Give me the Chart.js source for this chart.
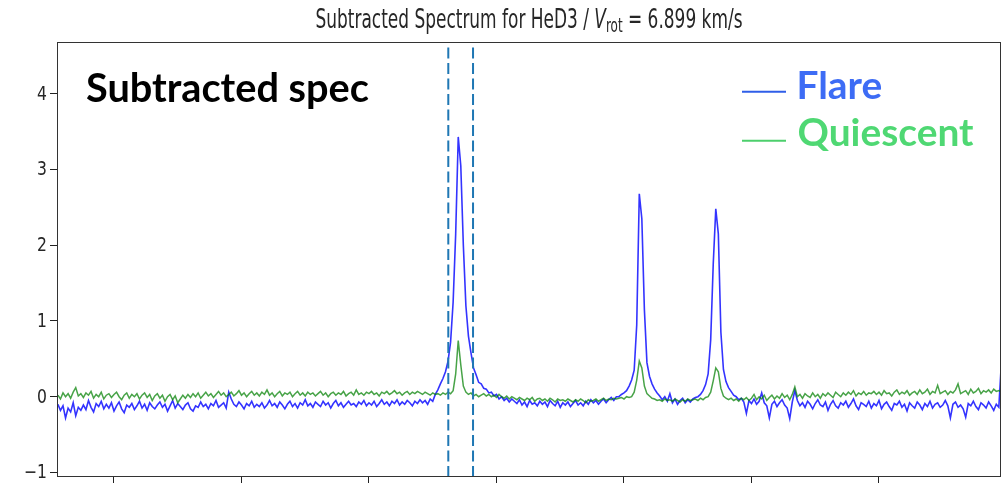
<!DOCTYPE html>
<html><head><meta charset="utf-8">
<script src="https://cdn.jsdelivr.net/npm/chart.js@4.4.1/dist/chart.umd.min.js"></script>
<style>html,body{margin:0;padding:0;background:#fff;overflow:hidden}#wrap{width:1008px;height:483px}</style>
</head><body><div id="wrap"><canvas id="c" width="1008" height="483"></canvas></div>
<script>
// wavelength grid (Angstrom)
const lambdaStart = 5845.6, lambdaStep = 0.2;
const fluxFlare = [
-0.10,-0.18,-0.12,-0.28,-0.15,-0.20,-0.08,-0.25,-0.14,-0.18,
-0.11,-0.17,-0.05,-0.14,-0.20,-0.09,-0.13,-0.06,-0.16,-0.10,
-0.15,-0.08,-0.19,-0.12,-0.07,-0.16,-0.21,-0.11,-0.14,-0.09,
-0.17,-0.12,-0.06,-0.15,-0.10,-0.18,-0.08,-0.13,-0.16,-0.11,
-0.07,-0.14,-0.10,-0.19,-0.12,-0.05,-0.15,-0.09,-0.13,-0.17,
-0.11,-0.08,-0.16,-0.19,-0.12,-0.14,-0.07,-0.13,-0.10,-0.16,
-0.09,-0.12,-0.05,-0.14,-0.11,-0.08,-0.15,0.06,-0.03,-0.10,
-0.13,-0.07,-0.11,-0.16,-0.09,-0.12,-0.06,-0.14,-0.10,-0.13,
-0.08,-0.15,-0.11,-0.05,-0.12,-0.09,-0.14,-0.07,-0.11,-0.16,
-0.10,-0.06,-0.13,-0.09,-0.15,-0.08,-0.11,-0.04,-0.12,-0.09,
-0.14,-0.07,-0.10,-0.13,-0.06,-0.11,-0.08,-0.15,-0.09,-0.05,
-0.12,-0.08,-0.14,-0.10,-0.06,-0.11,-0.09,-0.13,-0.07,-0.10,
-0.05,-0.12,-0.08,-0.11,-0.06,-0.13,-0.09,-0.04,-0.10,-0.07,
-0.12,-0.06,-0.09,-0.04,-0.11,-0.07,-0.10,-0.05,-0.08,-0.12,
-0.06,-0.09,-0.04,-0.08,-0.05,-0.10,-0.03,-0.06,0.03,0.09,
0.17,0.24,0.33,0.47,0.72,1.25,2.15,3.43,3.05,2.00,
1.20,0.80,0.58,0.38,0.29,0.19,0.17,0.11,0.10,0.05,
0.06,0.01,0.03,-0.03,0.00,-0.05,-0.02,-0.07,-0.03,-0.06,
-0.09,-0.04,-0.11,-0.07,-0.13,-0.05,-0.10,-0.08,-0.12,-0.06,
-0.10,-0.07,-0.13,-0.05,-0.09,-0.12,-0.06,-0.14,-0.08,-0.11,
-0.07,-0.13,-0.09,-0.05,-0.11,-0.08,-0.12,-0.06,-0.10,-0.04,
-0.08,-0.05,-0.10,-0.06,-0.03,-0.08,-0.04,-0.01,-0.05,0.00,
0.00,0.03,0.05,0.08,0.14,0.22,0.35,0.95,2.68,2.35,
1.15,0.45,0.27,0.17,0.10,0.05,0.01,-0.04,0.00,-0.06,
0.04,-0.08,-0.03,-0.10,-0.05,-0.02,-0.08,-0.04,-0.07,-0.03,
-0.01,0.00,0.03,0.08,0.16,0.30,0.75,1.75,2.48,2.15,
0.85,0.36,0.20,0.12,0.07,0.02,0.00,-0.04,-0.02,-0.07,
-0.22,-0.05,-0.09,-0.03,-0.10,-0.06,0.05,-0.08,-0.12,-0.28,
-0.10,-0.06,-0.13,-0.08,-0.04,-0.11,-0.15,-0.29,-0.07,0.08,
-0.05,-0.12,-0.08,-0.14,-0.06,-0.10,-0.16,-0.09,-0.04,-0.11,
-0.13,-0.07,-0.18,-0.10,-0.05,-0.12,-0.15,-0.08,-0.11,-0.06,
-0.14,-0.09,-0.03,-0.12,-0.17,-0.08,-0.10,-0.13,-0.06,-0.15,
-0.09,-0.12,-0.05,-0.16,-0.10,-0.07,-0.13,-0.18,-0.09,-0.11,
-0.06,-0.14,-0.10,-0.19,-0.08,-0.12,-0.15,-0.07,-0.11,-0.17,
-0.09,-0.13,-0.06,-0.15,-0.10,-0.08,-0.14,-0.11,-0.05,-0.12,
-0.28,-0.10,-0.07,-0.14,-0.11,-0.16,-0.27,-0.09,-0.12,-0.06,
-0.13,-0.17,-0.08,-0.11,-0.15,-0.07,-0.12,-0.18,-0.10,-0.14,0.45
];
const fluxQuiet = [
0.02,-0.03,0.05,0.00,0.04,-0.02,0.06,0.12,0.01,0.04,
-0.01,0.05,0.02,0.07,-0.02,0.03,0.00,0.06,-0.03,0.02,
0.04,-0.01,0.03,0.06,0.00,-0.04,0.02,0.05,-0.02,0.03,
0.00,0.04,-0.03,0.02,0.05,-0.01,0.03,-0.05,0.01,0.04,
-0.02,0.02,-0.06,0.00,0.03,-0.04,0.01,-0.08,-0.03,0.02,
-0.02,0.03,-0.01,0.04,0.00,0.05,-0.02,0.02,0.06,0.01,
0.04,-0.01,0.03,0.07,0.02,0.05,0.00,0.03,0.06,0.01,
0.04,0.08,0.02,0.05,0.00,0.04,0.07,0.02,0.05,0.01,
0.06,0.03,0.09,0.02,0.05,0.00,0.04,0.07,0.01,0.05,
0.03,0.06,0.00,0.04,0.07,0.02,0.05,0.01,0.06,0.03,
0.05,0.01,0.04,0.07,0.02,0.05,0.00,0.04,0.06,0.02,
0.05,0.03,0.07,0.01,0.04,0.06,0.02,0.09,0.03,0.05,
0.02,0.06,0.04,0.07,0.03,0.05,0.01,0.06,0.04,0.07,
0.03,0.05,0.08,0.04,0.06,0.02,0.05,0.07,0.03,0.06,
0.04,0.07,0.05,0.03,0.06,0.04,0.02,0.05,0.03,0.04,
0.02,0.05,0.03,0.06,0.04,0.08,0.30,0.74,0.42,0.14,
0.06,0.03,0.05,0.01,0.03,0.00,0.02,0.04,0.01,0.03,
0.00,0.02,-0.01,0.03,0.00,-0.02,0.01,-0.03,0.00,-0.02,
-0.04,-0.01,-0.03,-0.05,-0.02,-0.04,-0.01,-0.06,-0.03,-0.02,
-0.05,-0.03,-0.06,-0.02,-0.04,-0.07,-0.03,-0.05,-0.04,-0.06,
-0.03,-0.05,-0.07,-0.04,-0.06,-0.03,-0.05,-0.08,-0.04,-0.06,
-0.05,-0.03,-0.06,-0.04,-0.02,-0.05,-0.03,-0.04,-0.02,-0.03,
-0.02,-0.01,-0.03,0.00,-0.01,0.00,0.06,0.22,0.47,0.38,
0.14,0.04,0.01,-0.02,-0.03,-0.05,-0.04,-0.06,-0.03,-0.05,
-0.04,-0.06,-0.03,-0.05,-0.07,-0.04,-0.06,-0.03,-0.05,-0.04,
-0.03,-0.05,-0.02,-0.04,-0.01,0.00,0.06,0.21,0.38,0.33,
0.11,0.01,-0.02,-0.04,-0.02,-0.05,-0.03,-0.06,-0.02,-0.04,
-0.01,-0.05,-0.02,0.03,-0.04,0.00,-0.03,0.02,-0.05,-0.01,
0.02,-0.03,0.01,-0.02,0.04,-0.01,0.02,-0.04,0.03,0.13,
0.00,0.03,-0.02,0.04,0.01,-0.01,0.05,0.00,0.03,-0.02,
0.04,0.01,0.05,0.02,-0.01,0.06,0.03,0.00,0.05,0.02,
0.06,0.03,0.08,0.01,0.05,0.03,0.07,0.02,0.05,0.04,
0.07,0.03,0.06,0.02,0.08,0.04,0.05,0.01,0.06,0.09,
0.03,0.06,0.04,0.08,0.02,0.05,0.07,0.03,0.09,0.04,
0.06,0.10,0.03,0.07,0.05,0.15,0.04,0.06,0.08,0.03,
0.07,0.05,0.09,0.17,0.04,0.06,0.08,0.03,0.10,0.05,
0.07,0.11,0.04,0.08,0.06,0.09,0.05,0.10,0.07,0.08,0.06
];
const markerLines = [5876.22, 5878.16];
const xTicks = [5850, 5860, 5870, 5880, 5890, 5900, 5910];
const yTicks = [-1, 0, 1, 2, 3, 4];
const xRange = [5845.53, 5919.57];
const yRange = [-1.06, 4.683];
const seriesNames = ['Flare', 'Quiescent'];
const titleParts = ['Subtracted Spectrum for HeD3 / ', 'V', 'rot', ' = 6.899 km/s'];
const panelLabel = 'Subtracted spec';

const toPoints = arr => arr.map((v, i) => ({ x: lambdaStart + i * lambdaStep, y: v }));

const annot = {
  id: 'annot',
  afterDraw(chart) {
    const ctx = chart.ctx, a = chart.chartArea;
    const fam = '"DejaVu Sans", sans-serif';
    ctx.save();
    // frame
    ctx.strokeStyle = '#333'; ctx.lineWidth = 1;
    ctx.strokeRect(a.left + 0.5, a.top + 0.5, a.right - a.left - 1, a.bottom - a.top - 1);

    // title
    const parts = [
      { t: titleParts[0], f: '27px ' + fam, dy: 0 },
      { t: titleParts[1], f: 'italic 27px ' + fam, dy: 0 },
      { t: titleParts[2], f: '19px ' + fam, dy: 4 },
      { t: titleParts[3], f: '27px ' + fam, dy: 0 }
    ];
    let W = 0;
    parts.forEach(p => { ctx.font = p.f; p.w = ctx.measureText(p.t).width; W += p.w; });
    const targetW = 427, sx = targetW / W;
    ctx.save();
    ctx.translate((a.left + a.right) / 2 - targetW / 2, 28.3);
    ctx.scale(sx, 1);
    ctx.fillStyle = '#262626'; ctx.textAlign = 'left'; ctx.textBaseline = 'alphabetic';
    let x = 0;
    parts.forEach(p => { ctx.font = p.f; ctx.fillText(p.t, x, p.dy); x += p.w; });
    ctx.restore();

    // y tick labels
    const ys = chart.scales.y;
    yTicks.forEach(v => {
      const py = ys.getPixelForValue(v);
      ctx.save();
      ctx.translate(a.left - 10, py);
      ctx.scale(0.82, 1);
      ctx.font = '19px ' + fam;
      ctx.textAlign = 'right'; ctx.textBaseline = 'middle';
      ctx.fillStyle = '#262626';
      ctx.fillText(v < 0 ? '\u2212' + Math.abs(v) : String(v), 0, 1);
      ctx.restore();
    });

    // overlay texts
    const bf = 'Lato, "Open Sans", sans-serif';
    const fit = (txt, w) => { ctx.font = 'bold 100px ' + bf; return 100 * w / ctx.measureText(txt).width; };
    const s1 = fit(panelLabel, 283);
    ctx.font = 'bold ' + s1 + 'px ' + bf;
    ctx.fillStyle = '#000'; ctx.textAlign = 'left'; ctx.textBaseline = 'alphabetic';
    ctx.fillText(panelLabel, 86, 101.7);

    const s2 = fit(seriesNames[1], 176);
    ctx.font = 'bold ' + s2 + 'px ' + bf;
    ctx.fillStyle = '#3d6cf5';
    ctx.fillText(seriesNames[0], 796.5, 99.3);
    ctx.fillStyle = '#4fd873';
    ctx.fillText(seriesNames[1], 797.5, 146);

    ctx.lineWidth = 2;
    ctx.strokeStyle = '#2f5ee8';
    ctx.beginPath(); ctx.moveTo(742, 91.7); ctx.lineTo(786, 91.7); ctx.stroke();
    ctx.strokeStyle = '#4ccf6c';
    ctx.beginPath(); ctx.moveTo(742, 140.7); ctx.lineTo(786, 140.7); ctx.stroke();
    ctx.restore();
  }
};

const axisGrid = len => ({ display: true, drawOnChartArea: false, drawTicks: true, tickLength: len, color: '#222', lineWidth: 1 });

new Chart(document.getElementById('c'), {
  type: 'line',
  data: {
    datasets: [
      { label: seriesNames[0], data: toPoints(fluxFlare), borderColor: 'rgba(0,0,255,0.8)', borderWidth: 1.6, pointRadius: 0, tension: 0, order: 3 },
      { label: seriesNames[1], data: toPoints(fluxQuiet), borderColor: 'rgba(0,128,0,0.72)', borderWidth: 1.5, pointRadius: 0, tension: 0, order: 2 },
      ...markerLines.map(m => ({
        label: 'marker', data: [{ x: m, y: yRange[0] }, { x: m, y: yRange[1] }],
        borderColor: '#1f77b4', borderWidth: 2, borderDash: [11, 4.5], pointRadius: 0, order: 1
      }))
    ]
  },
  options: {
    responsive: false, animation: false, devicePixelRatio: 1,
    layout: { padding: { top: 42, right: 7, left: 0, bottom: 0 } },
    plugins: { legend: { display: false }, tooltip: { enabled: false }, title: { display: false } },
    scales: {
      x: {
        type: 'linear', min: xRange[0], max: xRange[1],
        afterBuildTicks: s => { s.ticks = xTicks.map(v => ({ value: v })); },
        ticks: { display: false },
        grid: axisGrid(6), border: { display: false }
      },
      y: {
        type: 'linear', min: yRange[0], max: yRange[1],
        afterBuildTicks: s => { s.ticks = yTicks.map(v => ({ value: v })); },
        afterFit: s => { s.width = 57; },
        ticks: { display: false },
        grid: axisGrid(7), border: { display: false }
      }
    }
  },
  plugins: [annot]
});
</script>
</body></html>
